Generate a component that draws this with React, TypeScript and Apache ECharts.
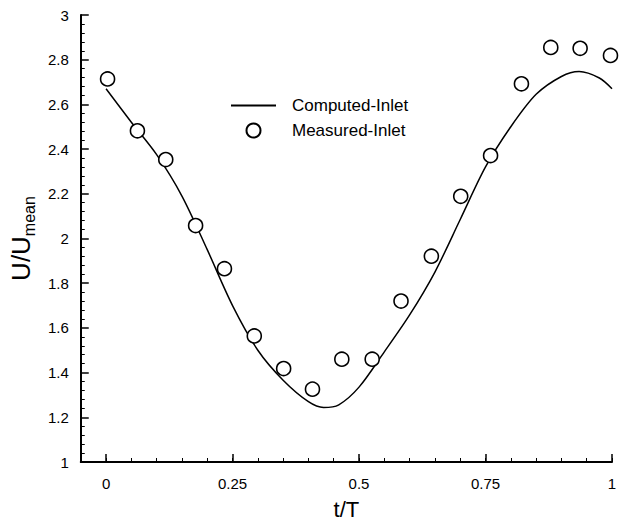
import React, { useEffect, useRef } from "react";
import * as echarts from "echarts";

const FONT = "'Liberation Sans', Arial, Helvetica, sans-serif";

// Computed-Inlet curve (t/T, U/Umean)
const tComputed = [0, 0.05, 0.1, 0.15, 0.2, 0.25, 0.3, 0.35, 0.4, 0.43, 0.46, 0.5, 0.55, 0.6, 0.65, 0.7, 0.75, 0.8, 0.85, 0.9, 0.935, 0.975, 1.0];
const uComputed = [2.67, 2.52, 2.375, 2.19, 1.95, 1.7, 1.5, 1.366, 1.27, 1.244, 1.256, 1.335, 1.493, 1.658, 1.85, 2.085, 2.32, 2.5, 2.645, 2.725, 2.747, 2.718, 2.67];

// Measured-Inlet points
const tMeasured = [0.003, 0.062, 0.118, 0.177, 0.234, 0.293, 0.351, 0.408, 0.466, 0.526, 0.583, 0.643, 0.701, 0.76, 0.821, 0.879, 0.937, 0.997];
const uMeasured = [2.714, 2.482, 2.353, 2.058, 1.865, 1.564, 1.418, 1.326, 1.46, 1.46, 1.72, 1.921, 2.189, 2.371, 2.692, 2.855, 2.851, 2.819];

const xMajorTicks = [0, 0.25, 0.5, 0.75, 1];

export default function App() {
  const ref = useRef<HTMLDivElement>(null);
  useEffect(() => {
    if (!ref.current) return;
    const chart = echarts.init(ref.current, null, { renderer: "svg" });
    const computed = tComputed.map((t, i) => [t, uComputed[i]]);
    const measured = tMeasured.map((t, i) => [t, uMeasured[i]]);
    chart.setOption({
      animation: false,
      backgroundColor: "#fff",
      textStyle: { fontFamily: FONT, color: "#000" },
      grid: { left: 80, right: 10, top: 15, bottom: 62 },
      legend: {
        orient: "vertical",
        left: 230,
        top: 97,
        padding: 0,
        itemWidth: 45,
        itemHeight: 14,
        itemGap: 8,
        textStyle: { fontFamily: FONT, fontSize: 17, color: "#000", padding: [0, 0, 0, 11] },
        data: [
          { name: "Computed-Inlet", itemStyle: { color: "transparent", borderColor: "transparent", borderWidth: 0, opacity: 0 } },
          { name: "Measured-Inlet" },
        ],
      },
      xAxis: [
        {
          type: "value",
          min: -0.05,
          max: 1,
          interval: 0.05,
          position: "bottom",
          name: "t/T",
          nameLocation: "middle",
          nameGap: 36,
          nameTextStyle: { fontFamily: FONT, fontSize: 22, color: "#000" },
          axisLine: { show: true, onZero: false, lineStyle: { color: "#000", width: 2 } },
          axisTick: { show: true, inside: true, length: 4, lineStyle: { color: "#000", width: 1 } },
          axisLabel: {
            show: true,
            margin: 14,
            fontFamily: FONT,
            fontSize: 15,
            color: "#000",
            formatter: (v: number) => {
              const r = Math.round(v * 100) / 100;
              return xMajorTicks.includes(r) ? String(r) : "";
            },
          },
          splitLine: { show: false },
        },
        {
          type: "value",
          min: -0.05,
          max: 1,
          position: "bottom",
          axisLine: { show: false, onZero: false },
          axisTick: { show: true, inside: true, length: 8, customValues: xMajorTicks, lineStyle: { color: "#000", width: 1.5 } },
          axisLabel: { show: false },
          splitLine: { show: false },
        },
      ],
      yAxis: {
        type: "value",
        min: 1,
        max: 3,
        interval: 0.2,
        name: "{a|U/U}{b|mean}",
        nameLocation: "middle",
        nameGap: 40,
        nameRotate: 90,
        nameTextStyle: {
          fontFamily: FONT,
          color: "#000",
          rich: {
            a: { fontFamily: FONT, fontSize: 26, color: "#000", verticalAlign: "bottom", padding: [0, 0, 3, 0] },
            b: { fontFamily: FONT, fontSize: 16, color: "#000", verticalAlign: "bottom" },
          },
        },
        axisLine: { show: true, onZero: false, lineStyle: { color: "#000", width: 2 } },
        axisTick: { show: true, inside: true, length: 8, lineStyle: { color: "#000", width: 1.5 } },
        minorTick: { show: true, splitNumber: 5, length: 4, lineStyle: { color: "#000", width: 1 } },
        axisLabel: { margin: 12, fontFamily: FONT, fontSize: 15, color: "#000" },
        splitLine: { show: false },
        minorSplitLine: { show: false },
      },
      series: [
        {
          name: "Computed-Inlet",
          type: "line",
          xAxisIndex: 0,
          data: computed,
          smooth: 0.3,
          symbol: "none",
          lineStyle: { color: "#000", width: 1.5 },
          itemStyle: { color: "#000" },
          z: 2,
        },
        {
          name: "Measured-Inlet",
          type: "scatter",
          xAxisIndex: 0,
          data: measured,
          symbol: "circle",
          symbolSize: 14,
          itemStyle: { color: "#fff", borderColor: "#000", borderWidth: 1.6, opacity: 1 },
          z: 3,
        },
      ],
    });
    return () => chart.dispose();
  }, []);
  return <div ref={ref} style={{ position: "absolute", left: 0, top: 0, width: 622, height: 525 }} />;
}
